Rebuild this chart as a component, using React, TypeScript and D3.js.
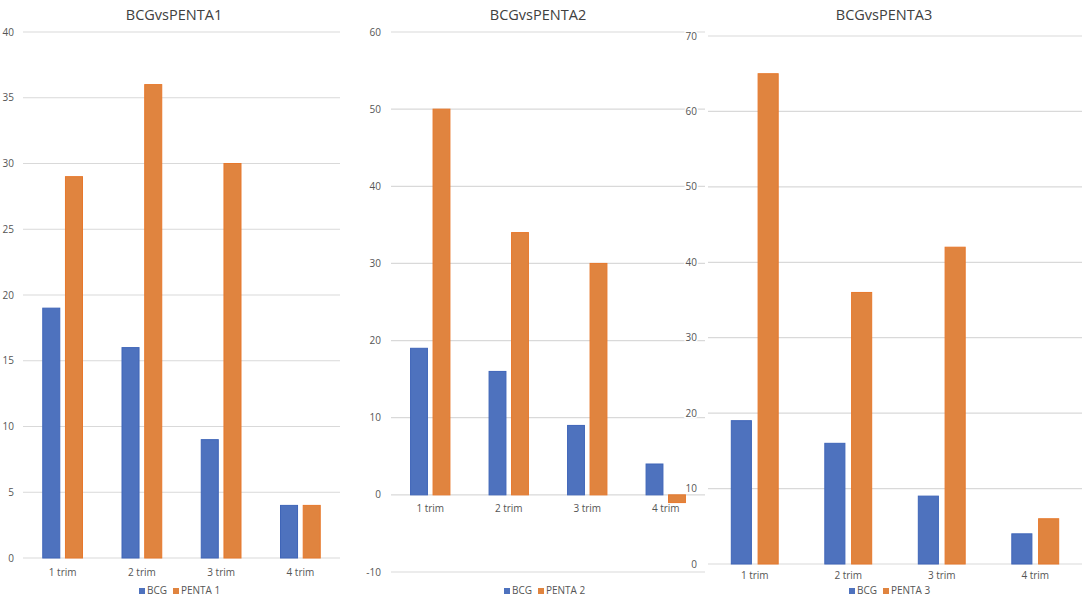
import * as React from 'react';
import * as d3 from 'd3';

// Chart data
const categories = ['1 trim', '2 trim', '3 trim', '4 trim'];
const bcg = [19, 16, 9, 4];
const penta1 = [29, 36, 30, 4];
const penta2 = [50, 34, 30, -1];
const penta3 = [65, 36, 42, 6];
const titles = ['BCGvsPENTA1', 'BCGvsPENTA2', 'BCGvsPENTA3'];
const seriesNames = [['BCG', 'PENTA 1'], ['BCG', 'PENTA 2'], ['BCG', 'PENTA 3']];
const ticks1 = [0, 5, 10, 15, 20, 25, 30, 35, 40];
const ticks2 = [-10, 0, 10, 20, 30, 40, 50, 60];
const ticks3 = [0, 10, 20, 30, 40, 50, 60, 70];

const BLUE = '#4e72be';
const BLUE_EDGE = '#3f65b8';
const ORANGE = '#e0843f';
const ORANGE_EDGE = '#e7782c';
const FONT = "'Open Sans', 'Noto Sans', sans-serif";

interface PanelLayout {
  x0: number;
  x1: number;
  yTop: number;
  yBottom: number;
  labelX: number;
  titleX: number;
  catY: number;
  legendX: number;
}

const layouts: PanelLayout[] = [
  { x0: 23, x1: 340, yTop: 32, yBottom: 558, labelX: 14, titleX: 174, catY: 576, legendX: 176 },
  { x0: 391, x1: 705, yTop: 32, yBottom: 572, labelX: 381, titleX: 538, catY: 512, legendX: 541 },
  { x0: 708, x1: 1082, yTop: 36, yBottom: 564, labelX: 697, titleX: 884, catY: 579, legendX: 886 },
];

interface PanelProps {
  layout: PanelLayout;
  title: string;
  names: string[];
  a: number[];
  b: number[];
  ticks: number[];
}

const Panel: React.FC<PanelProps> = ({ layout, title, names, a, b, ticks }) => {
  const { x0, x1, yTop, yBottom, labelX, titleX, catY, legendX } = layout;
  const y = d3.scaleLinear()
    .domain([ticks[0], ticks[ticks.length - 1]])
    .range([yBottom, yTop]);
  const x = d3.scaleBand<string>().domain(categories).range([x0, x1]);
  const inner = d3.scaleBand<string>()
    .domain(['a', 'b'])
    .range([0, x.bandwidth()])
    .paddingInner(0.25)
    .paddingOuter(0.87);

  const bar = (v: number, i: number, key: string, fill: string, edge: string) => {
    const top = y(Math.max(0, v));
    const h = Math.abs(y(v) - y(0));
    return (
      <rect
        key={key + i}
        x={(x(categories[i]) ?? 0) + (inner(key) ?? 0)}
        y={top}
        width={inner.bandwidth()}
        height={h}
        fill={fill}
        stroke={edge}
        strokeWidth={1}
      />
    );
  };

  return (
    <g fontFamily={FONT}>
      <text x={titleX} y={20} textAnchor="middle" fontSize={14.5} fill="#404040">{title}</text>
      {ticks.map(t => (
        <line key={'g' + t} x1={x0} x2={x1} y1={y(t)} y2={y(t)} stroke="#d9d9d9" strokeWidth={1.2} />
      ))}
      {a.map((v, i) => bar(v, i, 'a', BLUE, BLUE_EDGE))}
      {b.map((v, i) => bar(v, i, 'b', ORANGE, ORANGE_EDGE))}
      {ticks.map(t => (
        <text key={'t' + t} x={labelX} y={y(t) + 3.5} textAnchor="end" fontSize={10} fill="#555"
          stroke="#fff" strokeWidth={3} paintOrder="stroke">{t}</text>
      ))}
      {categories.map(c => (
        <text key={c} x={(x(c) ?? 0) + x.bandwidth() / 2} y={catY} textAnchor="middle" fontSize={10} fill="#555">{c}</text>
      ))}
      <g transform={`translate(${legendX},594)`} fontSize={10} fill="#555">
        <rect x={-37} y={-6} width={6} height={6} fill={BLUE} />
        <text x={-29} y={0}>{names[0]}</text>
        <rect x={-3} y={-6} width={6} height={6} fill={ORANGE} />
        <text x={5} y={0}>{names[1]}</text>
      </g>
    </g>
  );
};

export default function App() {
  const seriesB = [penta1, penta2, penta3];
  const tickSets = [ticks1, ticks2, ticks3];
  return (
    <svg width={1084} height={600} style={{ position: 'fixed', left: 0, top: 0, background: '#fff' }}>
      <rect width={1084} height={600} fill="#fff" />
      {layouts.map((l, k) => (
        <Panel key={k} layout={l} title={titles[k]} names={seriesNames[k]} a={bcg} b={seriesB[k]} ticks={tickSets[k]} />
      ))}
    </svg>
  );
}
